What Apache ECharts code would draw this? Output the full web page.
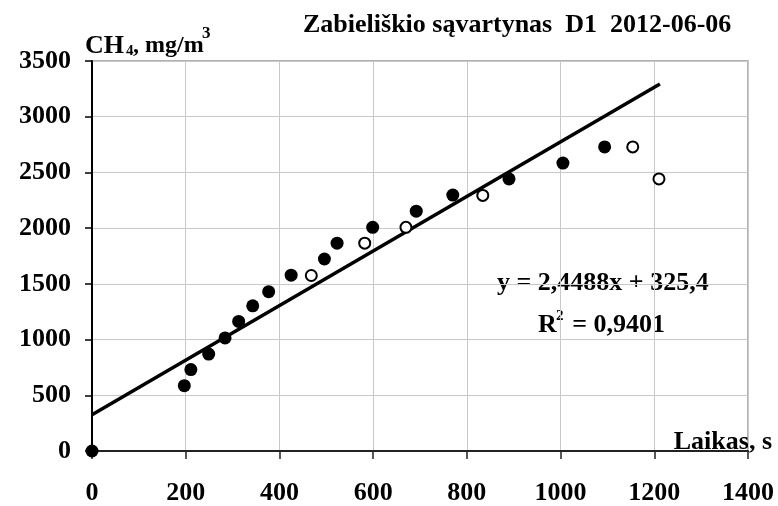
<!DOCTYPE html>
<html>
<head>
<meta charset="utf-8">
<script src="https://cdn.jsdelivr.net/npm/echarts@6/dist/echarts.min.js"></script>
<style>
  html, body {margin: 0; padding: 0; background: #fff;}
  #main {width: 778px; height: 506px;}
</style>
</head>
<body>
<div id="main"></div>
<script>
  // matavimai (užpildyti taškai)
  var filledX = [0, 197, 211, 249, 284, 313, 343, 377, 425, 496, 523, 599, 692, 770, 890, 1005, 1094];
  var filledY = [0, 586, 731, 870, 1015, 1163, 1303, 1430, 1578, 1723, 1865, 2007, 2152, 2297, 2442, 2584, 2729];
  // tušti taškai
  var openX = [468, 582, 670, 834, 1154, 1210];
  var openY = [1575, 1865, 2007, 2294, 2729, 2442];
  // tiesinė regresija (galai)
  var trendX = [0, 1212];
  var trendY = [325, 3293];

  var xTicks = [0, 200, 400, 600, 800, 1000, 1200, 1400];
  var yTicks = [0, 500, 1000, 1500, 2000, 2500, 3000, 3500];

  function pairs(xs, ys) {
    return xs.map(function (x, i) { return [x, ys[i]]; });
  }

  var font = '"Liberation Serif", "Times New Roman", serif';
  function txt(str, x, y, size, align) {
    return {
      type: 'text', x: x, y: y,
      style: {text: str, font: 'bold ' + size + 'px ' + font, fill: '#000',
        align: align || 'left', verticalAlign: 'middle'}
    };
  }

  var myChart = echarts.init(document.getElementById('main'));
  var option = {
    animation: false,
    grid: {
      left: 92, right: 30, top: 61, bottom: 51,
      show: true, borderColor: '#999', borderWidth: 1.5
    },
    xAxis: {
      type: 'value',
      min: xTicks[0], max: xTicks[xTicks.length - 1], interval: 200,
      axisLine: {show: true, onZero: false, lineStyle: {color: '#222', width: 2}},
      axisTick: {show: true, inside: false, length: 8, lineStyle: {color: '#222', width: 1.5}},
      axisLabel: {color: '#000', fontSize: 26, fontWeight: 'bold', fontFamily: font, margin: 29,
        formatter: function (v) { return String(v); }},
      splitLine: {show: true, lineStyle: {color: '#c8c8c8', width: 1}}
    },
    yAxis: {
      type: 'value',
      min: yTicks[0], max: yTicks[yTicks.length - 1], interval: 500,
      axisLine: {show: true, onZero: false, lineStyle: {color: '#000', width: 2}},
      axisTick: {show: true, inside: false, length: 7, lineStyle: {color: '#000', width: 1.5}},
      axisLabel: {color: '#000', fontSize: 26, fontWeight: 'bold', fontFamily: font, margin: 21,
        formatter: function (v) { return String(v); }},
      splitLine: {show: true, lineStyle: {color: '#c8c8c8', width: 1}}
    },
    series: [
      {
        type: 'line',
        data: pairs(trendX, trendY),
        showSymbol: false,
        lineStyle: {color: '#000', width: 3.5},
        z: 2
      },
      {
        type: 'scatter',
        data: pairs(filledX, filledY),
        symbol: 'circle',
        symbolSize: 13,
        itemStyle: {color: '#000', opacity: 1},
        z: 3
      },
      {
        type: 'scatter',
        data: pairs(openX, openY),
        symbol: 'circle',
        symbolSize: 11,
        itemStyle: {color: '#fff', borderColor: '#000', borderWidth: 2, opacity: 1},
        z: 3
      }
    ],
    graphic: [
      txt('Zabieliškio sąvartynas  D1  2012-06-06', 303, 25, 26),
      txt('CH', 85, 46, 26),
      txt('4', 126, 51, 15),
      txt(', mg/m', 133, 46, 24),
      txt('3', 202, 34, 17),
      txt('Laikas, s', 772, 442, 26, 'right'),
      txt('y = 2,4488x + 325,4', 497, 283, 26),
      txt('R', 538, 325, 26),
      txt('2', 556, 316, 15),
      txt('= 0,9401', 665, 325, 26, 'right')
    ]
  };
  myChart.setOption(option);
</script>
</body>
</html>
